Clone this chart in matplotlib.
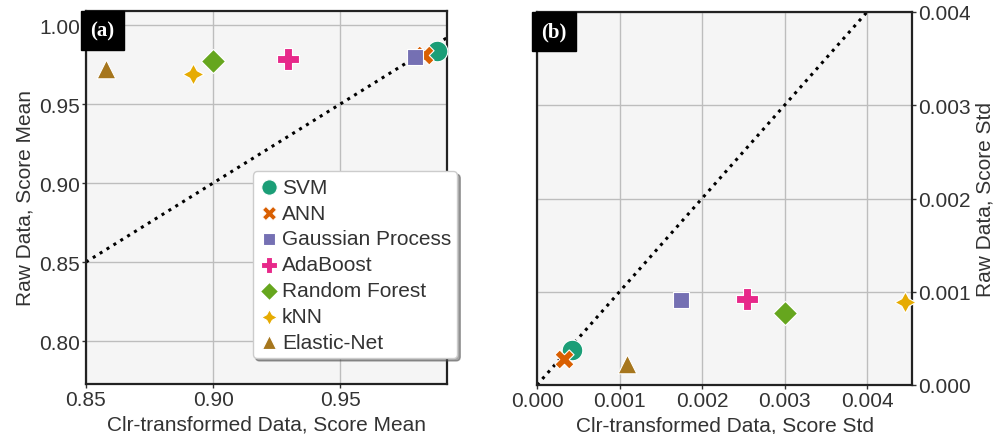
import matplotlib
matplotlib.use("Agg")
import matplotlib.pyplot as plt
import numpy as np

plt.rcParams["font.family"] = ["Liberation Sans", "DejaVu Sans"]

# models and styles
models = ["SVM", "ANN", "Gaussian Process", "AdaBoost", "Random Forest", "kNN", "Elastic-Net"]
colors = ["#1b9e77", "#d95f02", "#7570b3", "#e7298a", "#66a61e", "#e6ab02", "#a6761d"]
markers = ["o", "X", "s", "P", "D", (4, 1, 0), "^"]
sizes = [220, 190, 140, 230, 150, 230, 180]

# (a) score mean
clr_mean = [0.988, 0.983, 0.9795, 0.9295, 0.900, 0.892, 0.858]
raw_mean = [0.9835, 0.981, 0.980, 0.9785, 0.977, 0.969, 0.972]

# (b) score std
clr_std = [0.00042, 0.00033, 0.00175, 0.00255, 0.0030, 0.00446, 0.00109]
raw_std = [0.00037, 0.00028, 0.00091, 0.00092, 0.00077, 0.00089, 0.00023]

fs = 15
fig = plt.figure(figsize=(9.96, 4.35), dpi=100)
ax1 = fig.add_axes([86 / 996, 1 - 385 / 435, (447 - 86) / 996, (385 - 12) / 435])
ax2 = fig.add_axes([537 / 996, 1 - 386 / 435, (912 - 537) / 996, (386 - 13) / 435])

for ax in (ax1, ax2):
    ax.set_facecolor("#f5f5f5")
    ax.grid(True, color="#bdbdbd", lw=1.0)
    ax.set_axisbelow(True)
    for sp in ax.spines.values():
        sp.set_linewidth(1.6)
        sp.set_color("#222222")
    ax.tick_params(labelsize=fs, colors="#333333", length=3, width=1, pad=1.5)

# panel (a)
lim_a = [0.85, 0.992]
ax1.plot(lim_a, lim_a, ":", color="black", lw=2.2, zorder=2)
for i, m in enumerate(models):
    ax1.scatter(clr_mean[i], raw_mean[i], s=sizes[i], c=colors[i], marker=markers[i],
                edgecolors="white", linewidths=0.8, label=m, zorder=3)
ax1.set_xlim(0.85, 0.992)
ax1.set_ylim(0.7728, 1.0089)
ax1.set_xticks([0.85, 0.90, 0.95])
ax1.set_yticks([0.80, 0.85, 0.90, 0.95, 1.00])
ax1.set_xticklabels(["0.85", "0.90", "0.95"])
ax1.set_yticklabels(["0.80", "0.85", "0.90", "0.95", "1.00"])
ax1.set_xlabel("Clr-transformed Data, Score Mean", fontsize=fs, color="#333333", labelpad=4)
ax1.set_ylabel("Raw Data, Score Mean", fontsize=fs, color="#333333", labelpad=3)
leg = ax1.legend(loc="upper left", bbox_to_anchor=(0.462, 0.57), fontsize=fs,
                 frameon=True, fancybox=True, shadow=True, framealpha=1,
                 labelspacing=0.33, handletextpad=0.1, borderpad=0.3,
                 handlelength=1.0, borderaxespad=0, markerscale=0.75)
leg.get_frame().set_edgecolor("#cccccc")
for t in leg.get_texts():
    t.set_color("#333333")
ax1.text(0.012, 0.975, "(a)", transform=ax1.transAxes, fontsize=15, fontweight="bold",
         family="Liberation Serif", color="white", va="top", ha="left",
         bbox=dict(boxstyle="square,pad=0.45", fc="black", ec="black"))

# panel (b)
lim_b = [0.0, 0.004]
ax2.plot(lim_b, lim_b, ":", color="black", lw=2.2, zorder=2)
for i, m in enumerate(models):
    ax2.scatter(clr_std[i], raw_std[i], s=sizes[i], c=colors[i], marker=markers[i],
                edgecolors="white", linewidths=0.8, zorder=3, clip_on=False)
ax2.set_xlim(0, 0.004545)
ax2.set_ylim(0, 0.004)
ax2.set_xticks([0, 0.001, 0.002, 0.003, 0.004])
ax2.set_xticklabels(["0.000", "0.001", "0.002", "0.003", "0.004"])
ax2.set_yticks([0, 0.001, 0.002, 0.003, 0.004])
ax2.set_yticklabels(["0.000", "0.001", "0.002", "0.003", "0.004"])
ax2.yaxis.tick_right()
ax2.yaxis.set_label_position("right")
ax2.set_xlabel("Clr-transformed Data, Score Std", fontsize=fs, color="#333333", labelpad=4)
ax2.set_ylabel("Raw Data, Score Std", fontsize=fs, color="#333333", labelpad=3)
ax2.text(0.012, 0.975, "(b)", transform=ax2.transAxes, fontsize=15, fontweight="bold",
         family="Liberation Serif", color="white", va="top", ha="left",
         bbox=dict(boxstyle="square,pad=0.45", fc="black", ec="black"))

fig.savefig("out.png", dpi=100)
